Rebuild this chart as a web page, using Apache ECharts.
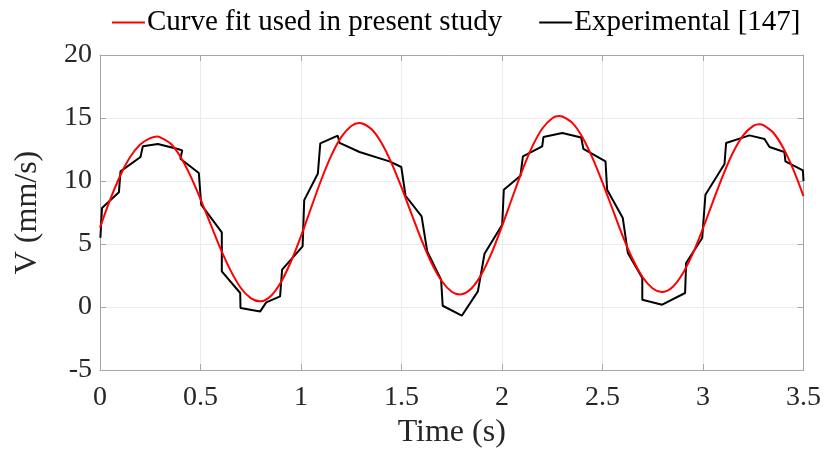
<!DOCTYPE html>
<html>
<head>
<meta charset="utf-8">
<script src="https://cdn.jsdelivr.net/npm/echarts@6/dist/echarts.min.js"></script>
<style>
html,body{margin:0;padding:0;background:#fff;}
#chart{width:824px;height:456px;}
</style>
</head>
<body>
<div id="chart"></div>
<script>
// Curve fit (red) — time (s) and velocity (mm/s)
var fitTime = [0, 0.05, 0.10, 0.15, 0.20, 0.25, 0.285, 0.30, 0.35, 0.40, 0.45, 0.50, 0.55, 0.60, 0.65, 0.70, 0.75, 0.795,
  0.80, 0.85, 0.90, 0.95, 1.00, 1.05, 1.10, 1.15, 1.20, 1.25, 1.29,
  1.30, 1.35, 1.40, 1.45, 1.50, 1.55, 1.60, 1.65, 1.70, 1.75, 1.79,
  1.80, 1.85, 1.90, 1.95, 2.00, 2.05, 2.10, 2.15, 2.20, 2.25, 2.285,
  2.30, 2.35, 2.40, 2.45, 2.50, 2.55, 2.60, 2.65, 2.70, 2.75, 2.795,
  2.80, 2.85, 2.90, 2.95, 3.00, 3.05, 3.10, 3.15, 3.20, 3.25, 3.28,
  3.30, 3.35, 3.40, 3.45, 3.50];
var fitV = [6.3, 8.5, 10.4, 11.9, 12.9, 13.4, 13.54, 13.47, 12.99, 11.93, 10.41, 8.57, 6.58, 4.61, 2.89, 1.53, 0.70, 0.45,
  0.45, 0.87, 1.96, 3.61, 5.63, 7.86, 10.06, 11.99, 13.48, 14.37, 14.6,
  14.59, 14.12, 13.04, 11.44, 9.49, 7.38, 5.30, 3.46, 2.06, 1.21, 1.0,
  1.01, 1.51, 2.66, 4.35, 6.41, 8.63, 10.81, 12.71, 14.15, 14.98, 15.15,
  15.12, 14.61, 13.48, 11.84, 9.88, 7.76, 5.65, 3.81, 2.36, 1.47, 1.2,
  1.2, 1.61, 2.68, 4.27, 6.25, 8.39, 10.47, 12.28, 13.62, 14.37, 14.5,
  14.44, 13.83, 12.60, 10.88, 8.8];

// Experimental [147] (black)
var expTime = [0.002, 0.010, 0.094, 0.102, 0.2015, 0.213, 0.288, 0.387, 0.409, 0.400, 0.4917, 0.5035, 0.606, 0.606,
  0.6975, 0.699, 0.797, 0.827, 0.896, 0.906, 1.008, 1.016, 1.084, 1.096, 1.183, 1.192, 1.291, 1.44, 1.499, 1.52,
  1.60, 1.628, 1.697, 1.705, 1.80, 1.88, 1.913, 2.001, 2.009, 2.092, 2.104, 2.20, 2.206, 2.30, 2.394, 2.405,
  2.515, 2.523, 2.601, 2.626, 2.698, 2.698, 2.797, 2.911, 2.916, 2.996, 3.012, 3.107, 3.115, 3.231, 3.306, 3.331,
  3.405, 3.41, 3.497, 3.50];
var expV = [5.5, 7.86, 9.1, 10.76, 11.9, 12.75, 12.94, 12.54, 12.43, 11.77, 10.63, 8.12, 5.92, 2.83,
  1.11, -0.08, -0.35, 0.37, 0.84, 2.96, 4.81, 8.48, 10.6, 12.98, 13.6, 13.02, 12.3, 11.56, 11.11, 8.83,
  7.19, 4.41, 2.17, 0.10, -0.69, 1.24, 4.23, 6.53, 9.31, 10.42, 11.95, 12.75, 13.49, 13.81, 13.45, 12.54,
  11.56, 9.31, 7.06, 4.29, 2.30, 0.58, 0.18, 1.11, 3.49, 5.48, 8.91, 11.35, 13.02, 13.62, 13.33, 12.7,
  12.3, 11.56, 10.84, 10.0];

var seriesNames = ['Curve fit used in present study', 'Experimental [147]'];
var xTitle = 'Time (s)';
var yTitle = 'V (mm/s)';

function pairs(xs, ys) { return xs.map(function (x, i) { return [x, ys[i]]; }); }

var serif = "'Liberation Serif', 'Times New Roman', serif";
var textCol = '#262626';
var axisCol = '#a6a6a6';

var chart = echarts.init(document.getElementById('chart'));
chart.setOption({
  animation: false,
  backgroundColor: '#ffffff',
  grid: { left: 100, right: 19, top: 55, bottom: 86, show: false },
  legend: {
    left: 107, top: 3, itemGap: 37, itemWidth: 33, itemHeight: 2,
    icon: 'rect',
    textStyle: { fontFamily: serif, fontSize: 29, color: '#000', padding: [0, 0, 0, -3] },
    data: seriesNames
  },
  xAxis: [{
    type: 'value', min: 0, max: 3.5, interval: 0.5,
    name: xTitle, nameLocation: 'middle', nameGap: 46,
    nameTextStyle: { fontFamily: serif, fontSize: 32, color: textCol },
    axisLine: { show: true, onZero: false, lineStyle: { color: axisCol, width: 1 } },
    axisTick: { show: true, inside: true, length: 6, lineStyle: { color: axisCol } },
    axisLabel: { fontFamily: serif, fontSize: 28, color: textCol, margin: 14 },
    splitLine: { show: true, lineStyle: { color: '#ebebeb', width: 1 } }
  }, {
    type: 'value', min: 0, max: 3.5, interval: 0.5, position: 'top',
    axisLine: { show: true, onZero: false, lineStyle: { color: axisCol, width: 1 } },
    axisTick: { show: true, inside: true, length: 6, lineStyle: { color: axisCol } },
    axisLabel: { show: false }, splitLine: { show: false }
  }],
  yAxis: [{
    type: 'value', min: -5, max: 20, interval: 5,
    name: yTitle, nameLocation: 'middle', nameGap: 56, nameRotate: 90,
    nameTextStyle: { fontFamily: serif, fontSize: 32, color: textCol },
    axisLine: { show: true, onZero: false, lineStyle: { color: axisCol, width: 1 } },
    axisTick: { show: true, inside: true, length: 6, lineStyle: { color: axisCol } },
    axisLabel: { fontFamily: serif, fontSize: 28, color: textCol, margin: 8 },
    splitLine: { show: true, lineStyle: { color: '#ebebeb', width: 1 } }
  }, {
    type: 'value', min: -5, max: 20, interval: 5, position: 'right',
    axisLine: { show: true, onZero: false, lineStyle: { color: axisCol, width: 1 } },
    axisTick: { show: true, inside: true, length: 6, lineStyle: { color: axisCol } },
    axisLabel: { show: false }, splitLine: { show: false }
  }],
  series: [{
    name: seriesNames[0], type: 'line', data: pairs(fitTime, fitV),
    smooth: 0.3, showSymbol: false, symbol: 'none', clip: true,
    itemStyle: { color: '#ff0000' },
    lineStyle: { color: '#ff0000', width: 2 }, z: 3
  }, {
    name: seriesNames[1], type: 'line', data: pairs(expTime, expV),
    showSymbol: false, symbol: 'none', clip: true,
    itemStyle: { color: '#000000' },
    lineStyle: { color: '#000000', width: 2 }, z: 2
  }]
});
</script>
</body>
</html>
